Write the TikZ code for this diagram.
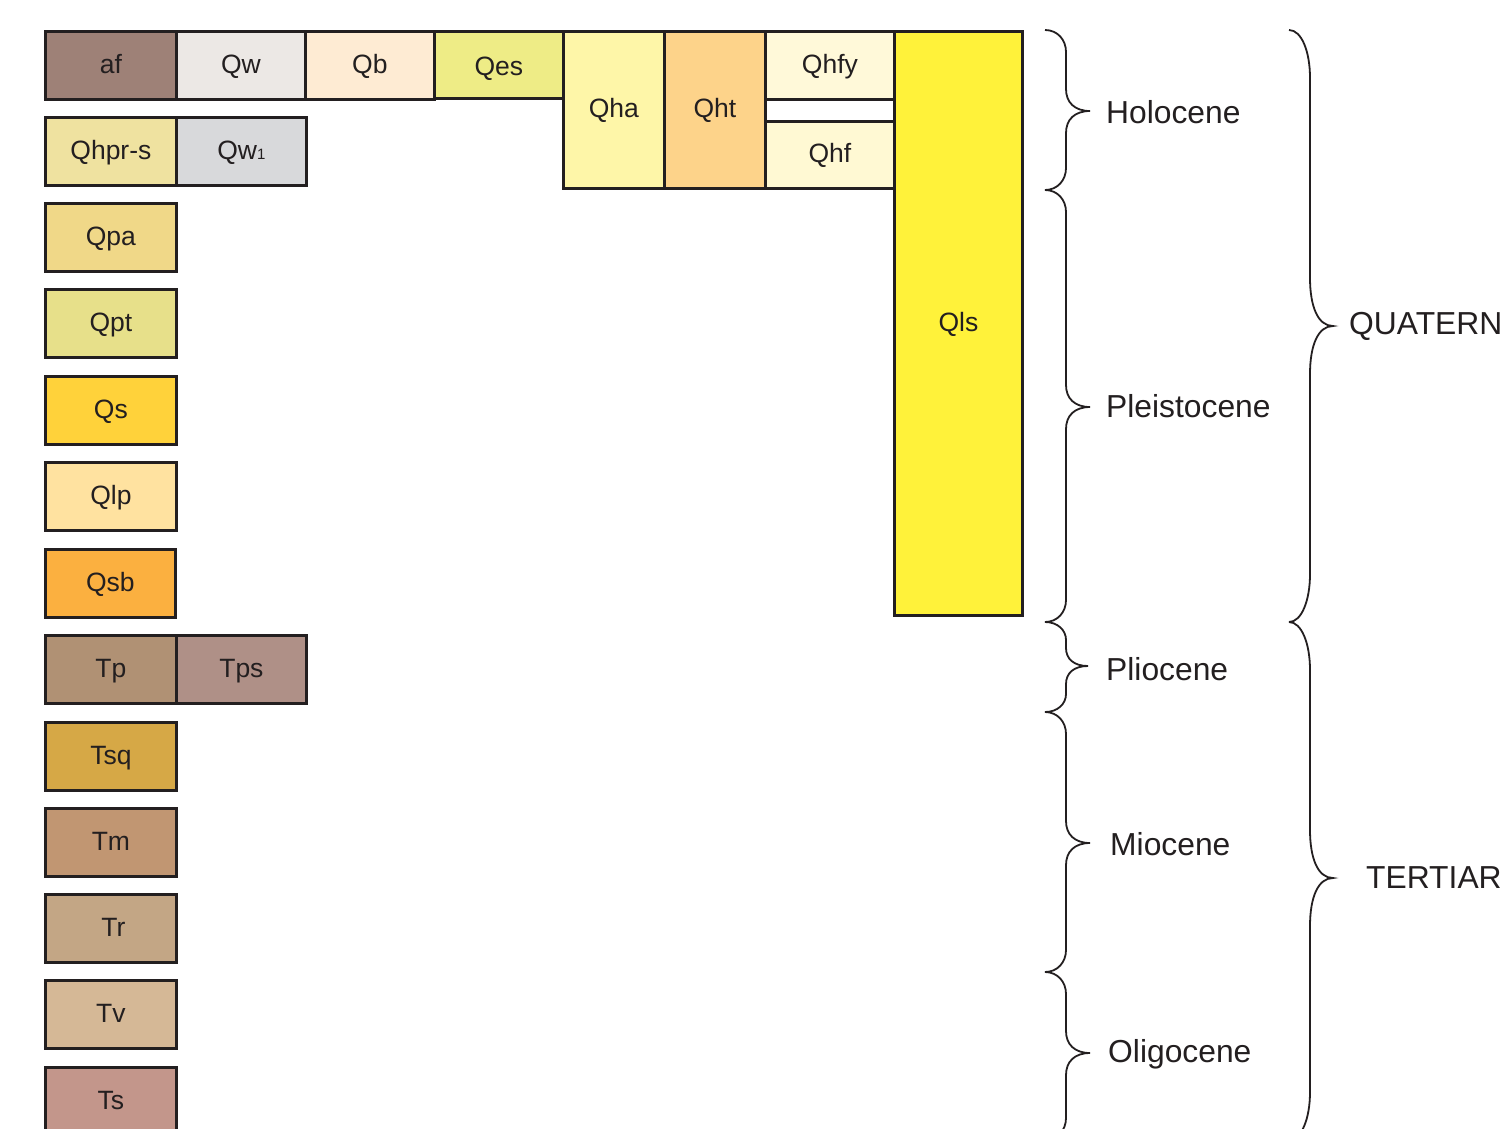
\documentclass[tikz,border=0pt]{standalone}
\usepackage{fontspec}
\setmainfont{Liberation Sans}
\definecolor{edge}{HTML}{231F20}
\definecolor{ink}{HTML}{231F20}
\definecolor{cAF}{HTML}{9E8177}
\definecolor{cQw}{HTML}{ECE8E5}
\definecolor{cQb}{HTML}{FEEBD3}
\definecolor{cQes}{HTML}{EEEC86}
\definecolor{cQha}{HTML}{FEF6A8}
\definecolor{cQht}{HTML}{FDD38A}
\definecolor{cQhfy}{HTML}{FFF9D9}
\definecolor{cQhf}{HTML}{FFF9D3}
\definecolor{cQls}{HTML}{FFF23A}
\definecolor{cQhpr}{HTML}{EFE2A0}
\definecolor{cQwone}{HTML}{D8D9DB}
\definecolor{cQpa}{HTML}{F0D888}
\definecolor{cQpt}{HTML}{E7E08A}
\definecolor{cQs}{HTML}{FFD23A}
\definecolor{cQlp}{HTML}{FFE2A0}
\definecolor{cQsb}{HTML}{FBB040}
\definecolor{cTp}{HTML}{B09174}
\definecolor{cTps}{HTML}{AF9087}
\definecolor{cTsq}{HTML}{D6A846}
\definecolor{cTm}{HTML}{C19672}
\definecolor{cTr}{HTML}{C3A685}
\definecolor{cTv}{HTML}{D5B896}
\definecolor{cTs}{HTML}{C3968B}
\tikzset{
  unit/.style={draw=edge, line width=2.8pt, inner sep=0pt, anchor=north west,
    font=\fontsize{26.5}{26.5}\selectfont, text=ink, minimum height=68pt, minimum width=131pt,
    text height=16pt, text depth=0pt},
  brc/.style={draw=edge, line width=1.8pt},
  epoch/.style={anchor=west, inner sep=0pt, text=ink, font=\fontsize{31.8}{31.8}\selectfont},
}
\newcommand\epochbrace[7]{%
  \draw[brc] (#1,#4) .. controls ({#1+0.6*(#2-#1)},#4) and (#2,{#4+0.45*#7}) .. (#2,{#4+#7})
   -- (#2,{#5-#7}) .. controls (#2,{#5-0.4*#7}) and ({#2+0.35*(#3-#2)},#5) .. (#3,#5)
   .. controls ({#2+0.35*(#3-#2)},#5) and (#2,{#5+0.4*#7}) .. (#2,{#5+#7})
   -- (#2,{#6-#7}) .. controls (#2,{#6-0.45*#7}) and ({#1+0.6*(#2-#1)},#6) .. (#1,#6);}
\begin{document}
\begin{tikzpicture}[x=1pt,y=-1pt]
\useasboundingbox (0,0) rectangle (1501,1128);
\clip (0,0) rectangle (1501,1128);
% top row
\node[unit, fill=cAF] (af) at (44,30) {af};
\node[unit, fill=cQw, minimum width=129pt] (qw) at (175,30) {Qw};
\node[unit, fill=cQb, minimum width=129pt] (qb) at (304,30) {Qb};
\node[unit, fill=cQes, minimum width=129pt, minimum height=67pt, text height=21pt] (qes) at (433,30) {Qes};
\node[unit, fill=cQha, minimum width=101pt, minimum height=157pt] (qha) at (562,30) {Qha};
\node[unit, fill=cQht, minimum width=101pt, minimum height=157pt] (qht) at (663,30) {Qht};
\node[unit, fill=cQhfy, minimum width=129pt] (qhfy) at (764,30) {Qhfy};
\node[unit, fill=cQhf, minimum width=129pt, minimum height=67pt] (qhf) at (764,120) {Qhf};
\node[unit, fill=cQls, minimum width=128pt, minimum height=584pt] (qls) at (893,30) {Qls};
% second row
\node[unit, fill=cQhpr] (qhpr) at (44,116) {Qhpr-s};
\node[unit, fill=cQwone, minimum width=130pt] (qw1) at (175,116) {Qw{\fontsize{15}{15}\selectfont 1}};
% column
\node[unit, fill=cQpa] (qpa) at (44,202) {Qpa};
\node[unit, fill=cQpt] (qpt) at (44,288) {Qpt};
\node[unit, fill=cQs] (qs) at (44,375) {Qs};
\node[unit, fill=cQlp] (qlp) at (44,461) {Qlp};
\node[unit, fill=cQsb, minimum width=130pt] (qsb) at (44,548) {Qsb};
\node[unit, fill=cTp] (tp) at (44,634) {Tp};
\node[unit, fill=cTps, minimum width=130pt] (tps) at (175,634) {Tps};
\node[unit, fill=cTsq] (tsq) at (44,721) {Tsq};
\node[unit, fill=cTm] (tm) at (44,807) {Tm};
\node[unit, fill=cTr] (tr) at (44,893) {\hspace*{5pt}Tr};
\node[unit, fill=cTv] (tv) at (44,979) {Tv};
\node[unit, fill=cTs] (ts) at (44,1066) {Ts};
% epoch braces
\epochbrace{1045}{1066}{1090}{30}{111}{190}{22}
\epochbrace{1045}{1066}{1090}{190}{407}{622}{22}
\epochbrace{1045}{1066}{1088}{622}{666}{712}{18}
\epochbrace{1045}{1066}{1090}{712}{843}{972}{22}
\epochbrace{1045}{1066}{1090}{972}{1053}{1140}{22}
% period braces
\epochbrace{1289}{1310}{1333}{30}{326}{622}{48}
\epochbrace{1289}{1310}{1333}{622}{878}{1140}{48}
% labels
\node[epoch] (holo) at (1106,112) {Holocene};
\node[epoch] (pleis) at (1106,406) {Pleistocene};
\node[epoch] (plio) at (1106,669) {Pliocene};
\node[epoch] (mio) at (1110,844) {Miocene};
\node[epoch] (oligo) at (1108,1054) {Oligocene};
\node[epoch] (quat) at (1349,326) {QUATERN};
\node[epoch] (tert) at (1366,878) {TERTIAR};
\end{tikzpicture}
\end{document}
